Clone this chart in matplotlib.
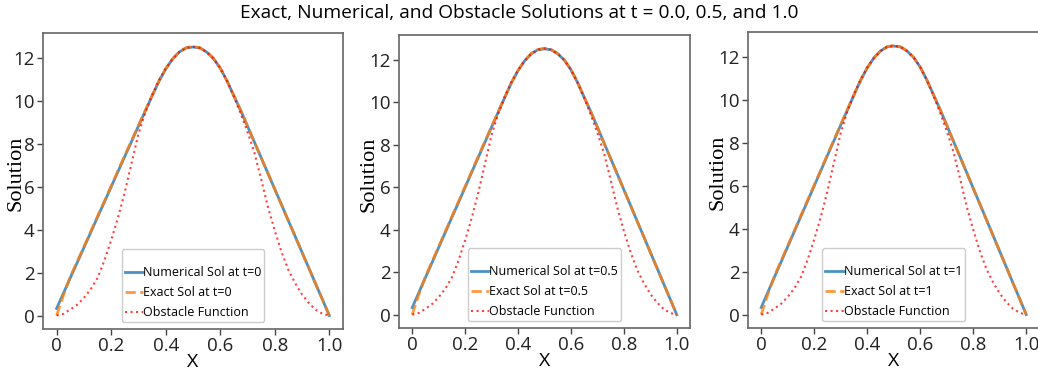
import matplotlib
matplotlib.use("Agg")
import matplotlib.pyplot as plt

# x grid (step 0.025)
x = [i * 0.025 for i in range(41)]

# obstacle function
obstacle = [0.0, 0.08, 0.28, 0.5, 0.82, 1.22, 1.75, 2.55, 3.5, 4.55,
            5.75, 7.1, 8.45, 9.45, 10.25, 10.94, 11.5, 11.94, 12.27, 12.46,
            12.52, 12.46, 12.27, 11.97, 11.52, 10.92, 10.2, 9.4, 8.55, 7.6,
            6.35, 5.05, 3.95, 2.95, 2.12, 1.5, 0.98, 0.58, 0.27, 0.08, 0.0]

# numerical solution (same at t=0, 0.5, 1)
numerical = [0.33, 1.04, 1.75, 2.45, 3.16, 3.87, 4.58, 5.28, 5.99, 6.70,
             7.41, 8.11, 8.82, 9.52, 10.22, 10.9, 11.48, 11.94, 12.27, 12.46,
             12.5, 12.46, 12.27, 11.97, 11.52, 10.92, 10.23, 9.55, 8.82, 8.08,
             7.35, 6.62, 5.88, 5.15, 4.41, 3.68, 2.94, 2.21, 1.47, 0.74, 0.0]

# exact solution
exact = [0.0, 0.95, 1.8, 2.5, 3.2, 3.91, 4.62, 5.32, 6.03, 6.74,
         7.45, 8.15, 8.85, 9.54, 10.24, 10.92, 11.49, 11.95, 12.28, 12.47,
         12.53, 12.47, 12.28, 11.98, 11.52, 10.92, 10.23, 9.55, 8.82, 8.08,
         7.35, 6.62, 5.88, 5.15, 4.41, 3.68, 2.94, 2.21, 1.47, 0.74, 0.0]

times = ["0", "0.5", "1"]
xticks = [0, 0.2, 0.4, 0.6, 0.8, 1.0]
xtick_labels = ["0", "0.2", "0.4", "0.6", "0.8", "1.0"]
yticks = [0, 2, 4, 6, 8, 10, 12]

plt.rcParams['font.family'] = ['Open Sans', 'DejaVu Sans']

fig = plt.figure(figsize=(10.38, 3.71), dpi=100)
positions = [[0.0414, 0.1132, 0.289, 0.798],
             [0.3844, 0.1159, 0.2803, 0.790],
             [0.7206, 0.1159, 0.2808, 0.798]]
ylabel_x = [-0.058, -0.072, -0.069]

for pos, t, lx in zip(positions, times, ylabel_x):
    ax = fig.add_axes(pos)
    ax.plot(x, numerical, color='#1f77b4', alpha=0.8, lw=2,
            label=f'Numerical Sol at t={t}')
    ax.plot(x, exact, color='#ff7f0e', alpha=0.8, lw=2, ls='--',
            label=f'Exact Sol at t={t}')
    ax.plot(x, obstacle, color='red', alpha=0.75, lw=1.5, ls=':',
            label='Obstacle Function')
    ax.set_xticks(xticks)
    ax.set_xticklabels(xtick_labels)
    ax.set_yticks(yticks)
    ax.tick_params(labelsize=13.5, colors='#444444', labelcolor='#222222',
                   length=4, width=1, pad=2)
    for s in ax.spines.values():
        s.set_color('#666666')
        s.set_linewidth(1.2)
    ax.set_xlabel('X', fontsize=14, labelpad=-1.5)
    ax.set_ylabel('Solution', fontsize=16, family='Liberation Serif')
    ax.yaxis.set_label_coords(lx, 0.525)
    leg = ax.legend(loc='lower center', fontsize=9, handlelength=1.45,
                    handletextpad=0.0, labelspacing=0.55, borderpad=0.25,
                    framealpha=1, borderaxespad=0.55, title=' ',
                    title_fontsize=6)
    leg.get_frame().set_edgecolor('#cccccc')

fig.suptitle('Exact, Numerical, and Obstacle Solutions at t = 0.0, 0.5, and 1.0',
             fontsize=13.8, y=0.99)

fig.savefig('out.png', dpi=100)
